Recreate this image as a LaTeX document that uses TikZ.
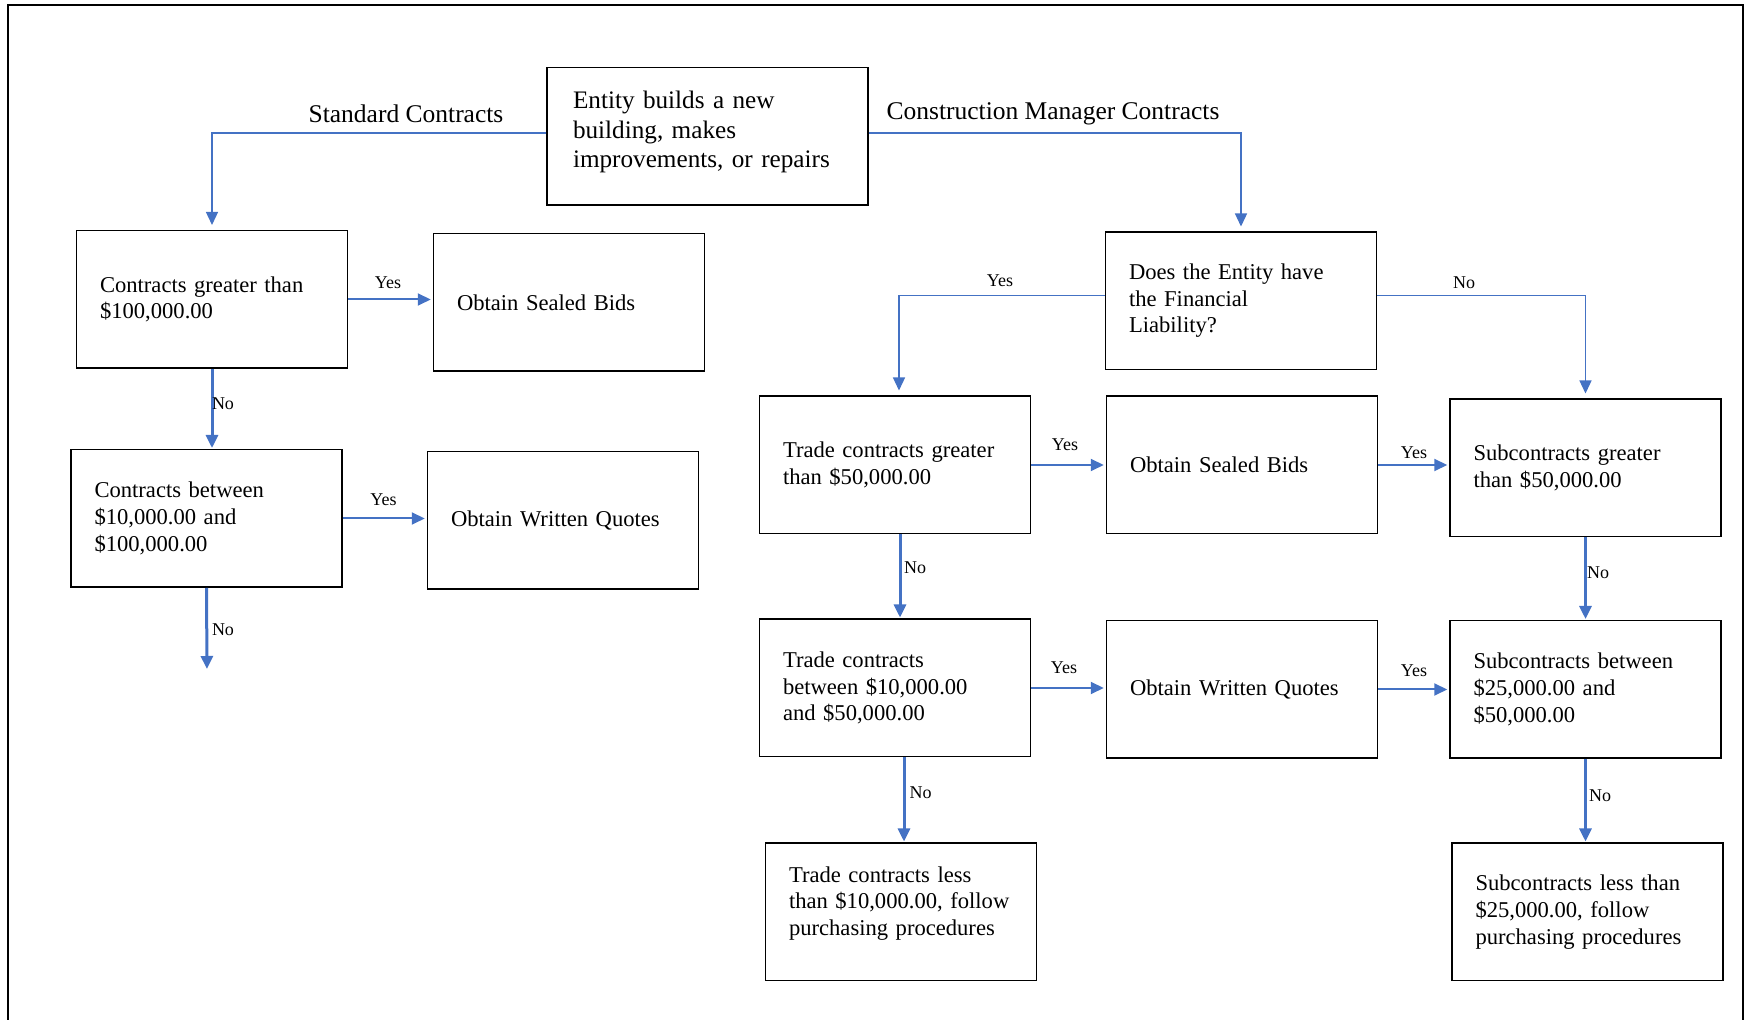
\documentclass[tikz,border=0pt]{standalone}
\usepackage{fontspec}
\setmainfont{Liberation Serif}
\usetikzlibrary{arrows.meta}

\definecolor{linkblue}{RGB}{68,114,196}
\newcommand{\liftby}[1]{\par\kern#1}
\newcommand{\nohyph}{\hyphenpenalty=10000\relax}

\begin{document}
\begin{tikzpicture}[x=0.5pt,y=-0.5pt,
    stepbox/.style={draw=black,line width=0.75pt,minimum width=135.5pt,minimum height=68.75pt,
      text width=112pt,inner xsep=11.75pt,align=left,
      font=\fontsize{11.3}{13.3}\selectfont\nohyph},
    topbox/.style={stepbox,minimum width=160.5pt,text width=134.5pt,inner xsep=13pt,
      font=\fontsize{12.6}{14.85}\selectfont\nohyph},
    branch/.style={font=\fontsize{12.75}{14.85}\selectfont,inner sep=0pt},
    answer/.style={font=\fontsize{9}{10}\selectfont,inner sep=0pt},
    link/.style={draw=linkblue,line width=0.65pt,-{Triangle[length=6.5pt,width=6pt]},shorten >=2.5pt},
    yesarrow/.style={link,line width=1pt,shorten >=1pt},
    noarrow/.style={link,line width=1.5pt,shorten >=0.5pt}]
    \useasboundingbox (0,0) rectangle (1758,1020);
    \draw[line width=1pt] (8,1020) -- (8,5) -- (1743,5) -- (1743,1020);

    % start
    \node[topbox] (start) at (707.5,136.5) {Entity builds a new\\building, makes\\improvements, or repairs\liftby{4.5pt}};
    \node[branch] (stdlbl) at (406,114) {Standard Contracts};
    \node[branch] (cmlbl) at (1053,114) {Construction Manager Contracts};

    % standard contracts
    \node[stepbox] (stdhigh) at (212,299.5) {Contracts greater than\\\$100,000.00};
    \node[stepbox] (stdbids) at (569,302.5) {Obtain Sealed Bids};
    \node[stepbox] (stdmid) at (206.5,518.5) {Contracts between\\\$10,000.00 and\\\$100,000.00};
    \node[stepbox] (stdquotes) at (563,520.5) {Obtain Written Quotes};
    \coordinate (stdend) at (207,670);

    % construction manager contracts
    \node[stepbox] (liab) at (1241,301) {Does the Entity have\\the Financial\\Liability?};
    \node[stepbox] (tradehigh) at (895,465) {Trade contracts greater\\than \$50,000.00};
    \node[stepbox] (cmbids) at (1242,465) {Obtain Sealed Bids};
    \node[stepbox] (subhigh) at (1585.5,468) {Subcontracts greater\\than \$50,000.00};
    \node[stepbox] (trademid) at (895,688) {Trade contracts\\between \$10,000.00\\and \$50,000.00};
    \node[stepbox] (cmquotes) at (1242,689.5) {Obtain Written Quotes};
    \node[stepbox] (submid) at (1585.5,689.5) {Subcontracts between\\\$25,000.00 and\\\$50,000.00};
    \node[stepbox] (tradelow) at (901,912) {Trade contracts less\\than \$10,000.00, follow\\purchasing procedures\liftby{8.5pt}};
    \node[stepbox] (sublow) at (1587.5,912) {Subcontracts less than\\\$25,000.00, follow\\purchasing procedures};

    % connectors
    \draw[link] ([yshift=1.7pt]start.west) -| (stdhigh.north);
    \draw[link] ([yshift=1.7pt]start.east) -| (liab.north);
    \draw[yesarrow] (stdhigh.east) -- (stdhigh.east -| stdbids.west);
    \draw[noarrow] (stdhigh.south) -- (stdhigh.south |- stdmid.north);
    \draw[yesarrow] (stdmid.east) -- (stdmid.east -| stdquotes.west);
    \draw[noarrow] (stdmid.south) -- (stdend);
    \draw[link] ([yshift=2.7pt]liab.west) -| ([xshift=2pt]tradehigh.north);
    \draw[link] ([yshift=2.7pt]liab.east) -| (subhigh.north);
    \draw[yesarrow] (tradehigh.east) -- (tradehigh.east -| cmbids.west);
    \draw[yesarrow] (cmbids.east) -- (cmbids.east -| subhigh.west);
    \draw[noarrow] ([xshift=2.5pt]tradehigh.south) -- ([xshift=2.5pt]tradehigh.south |- trademid.north);
    \draw[noarrow] (subhigh.south) -- (subhigh.south |- submid.north);
    \draw[yesarrow] (trademid.east) -- (trademid.east -| cmquotes.west);
    \draw[yesarrow] (cmquotes.east) -- (cmquotes.east -| submid.west);
    \draw[noarrow] ([xshift=4.5pt]trademid.south) -- ([xshift=4.5pt]trademid.south |- tradelow.north);
    \draw[noarrow] (submid.south) -- (submid.south |- sublow.north);

    % answers
    \node[answer] (yes1) at (388,282.5) {Yes};
    \node[answer] (no1) at (223,403.5) {No};
    \node[answer] (yes2) at (383.5,500) {Yes};
    \node[answer] (no2) at (223,630) {No};
    \node[answer] (yes3) at (1000,280.5) {Yes};
    \node[answer] (no3) at (1464,282.5) {No};
    \node[answer] (yes4) at (1065,445) {Yes};
    \node[answer] (yes5) at (1414,453) {Yes};
    \node[answer] (no4) at (915,567.5) {No};
    \node[answer] (yes6) at (1064,668) {Yes};
    \node[answer] (yes7) at (1414,670.5) {Yes};
    \node[answer] (no5) at (1598,573) {No};
    \node[answer] (no6) at (920.5,792.5) {No};
    \node[answer] (no7) at (1600,796) {No};
\end{tikzpicture}
\end{document}
